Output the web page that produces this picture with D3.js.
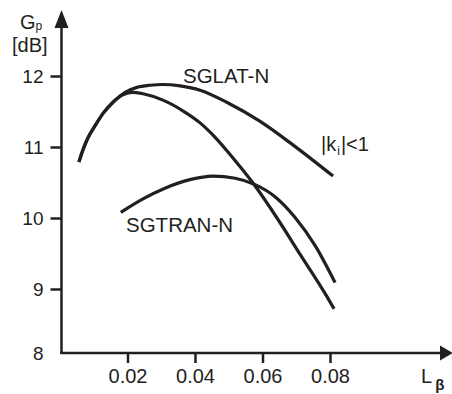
<!DOCTYPE html>
<html>
<head>
<meta charset="utf-8">
<script src="https://cdn.jsdelivr.net/npm/d3@7"></script>
<style>
  body { margin: 0; background: #fff; }
  svg text { font-family: "Liberation Sans", Arial, sans-serif; fill: #231f20; }
</style>
</head>
<body>
<div id="chart"></div>
<script>
// values: L_beta on x, G_p [dB] on y
const xTicks = [0.02, 0.04, 0.06, 0.08];
const yTicks = [8, 9, 10, 11, 12];

const sglatL = [0.0056, 0.0068, 0.0083, 0.0104, 0.0127, 0.0157, 0.0193, 0.0228, 0.0267, 0.0305, 0.0356, 0.0415, 0.0494, 0.0593, 0.0690, 0.0809];
const sglatG = [10.79, 10.96, 11.13, 11.30, 11.47, 11.63, 11.77, 11.84, 11.87, 11.88, 11.86, 11.80, 11.63, 11.36, 11.03, 10.59];

const steepL = [0.0056, 0.0068, 0.0083, 0.0104, 0.0127, 0.0157, 0.0184, 0.0213, 0.0246, 0.0305, 0.0364, 0.0415, 0.0459, 0.0510, 0.0569, 0.0643, 0.0711, 0.0791, 0.0812];
const steepG = [10.79, 10.96, 11.13, 11.30, 11.47, 11.63, 11.73, 11.77, 11.75, 11.66, 11.51, 11.34, 11.14, 10.86, 10.51, 10.00, 9.49, 8.88, 8.69];

const sgtranL = [0.0180, 0.0246, 0.0311, 0.0385, 0.0453, 0.0519, 0.0578, 0.0637, 0.0696, 0.0756, 0.0815];
const sgtranG = [10.08, 10.27, 10.42, 10.54, 10.59, 10.56, 10.47, 10.30, 10.01, 9.61, 9.09];

const width = 452, height = 394;
const ink = "#231f20";

const svg = d3.select("#chart").append("svg")
  .attr("width", width)
  .attr("height", height);

const x = d3.scaleLinear().domain([0, 0.08]).range([60, 330]);
// the bottom step (8..9) is drawn a bit shorter than the others in the original
const y = d3.scaleLinear().domain([8, 9, 12]).range([353, 289, 76]);

const x0 = 61.5, yBase = y(8);

// axes ticks + labels
const yAxis = svg.append("g")
  .attr("transform", `translate(${x0},0)`)
  .call(d3.axisLeft(y).tickValues(yTicks).tickSize(11).tickPadding(7).tickFormat(d3.format("d")));
yAxis.select(".domain").remove();
yAxis.selectAll("line").attr("stroke", ink).attr("stroke-width", 2.5);
yAxis.selectAll(".tick").filter(d => d == 8).select("line").remove();
yAxis.selectAll("text").attr("font-size", 19).attr("fill", ink)
  .style("font-family", "'Liberation Sans', Arial, sans-serif");

const xAxis = svg.append("g")
  .attr("transform", `translate(0,${yBase})`)
  .call(d3.axisBottom(x).tickValues(xTicks).tickSize(10).tickFormat(d3.format(".2f")));
xAxis.select(".domain").remove();
xAxis.selectAll("line").attr("stroke", ink).attr("stroke-width", 2.5);
xAxis.selectAll("text").attr("font-size", 20).attr("fill", ink)
  .attr("dy", null).attr("y", 30)
  .style("font-family", "'Liberation Sans', Arial, sans-serif");

// axis lines with arrow heads
svg.append("line").attr("x1", x0).attr("y1", yBase + 1).attr("x2", x0).attr("y2", 24)
  .attr("stroke", ink).attr("stroke-width", 2.5);
svg.append("path").attr("d", `M${x0},10 L${x0 - 7},28 L${x0 + 7},28 Z`).attr("fill", ink);

svg.append("line").attr("x1", x0 - 1.2).attr("y1", yBase).attr("x2", 442).attr("y2", yBase)
  .attr("stroke", ink).attr("stroke-width", 2.5);
svg.append("path").attr("d", `M453,${yBase} L440,${yBase - 7.5} L440,${yBase + 7.5} Z`).attr("fill", ink);

// curves
const line = d3.line()
  .x(d => x(d[0]))
  .y(d => y(d[1]))
  .curve(d3.curveMonotoneX);

const series = [
  d3.zip(sglatL, sglatG),
  d3.zip(steepL, steepG),
  d3.zip(sgtranL, sgtranG)
];

svg.append("g").selectAll("path")
  .data(series)
  .enter()
  .append("path")
  .attr("d", d => line(d))
  .attr("fill", "none")
  .attr("stroke", ink)
  .attr("stroke-width", 3.2)
  .attr("stroke-linecap", "butt");

// texts
svg.append("text").attr("x", 183).attr("y", 83).attr("font-size", 20.5).text("SGLAT-N");
svg.append("text").attr("x", 126).attr("y", 232).attr("font-size", 20.5).text("SGTRAN-N");

const k = svg.append("text").attr("x", 321).attr("y", 151).attr("font-size", 20);
k.append("tspan").text("|k");
k.append("tspan").attr("font-size", 12).attr("dy", 4).attr("dx", 1).text("i");
k.append("tspan").attr("dy", -4).attr("dx", 1).text("|<1");

const g = svg.append("text").attr("x", 20).attr("y", 29).attr("font-size", 20);
g.append("tspan").text("G");
g.append("tspan").attr("font-size", 12).attr("dy", 1).text("p");
svg.append("text").attr("x", 12).attr("y", 52).attr("font-size", 20).text("[dB]");

const l = svg.append("text").attr("x", 421).attr("y", 383).attr("font-size", 20);
l.append("tspan").text("L");
l.append("tspan").attr("font-size", 15).attr("font-weight", "bold").attr("dy", 7).attr("dx", 3).text("β");
</script>
</body>
</html>
